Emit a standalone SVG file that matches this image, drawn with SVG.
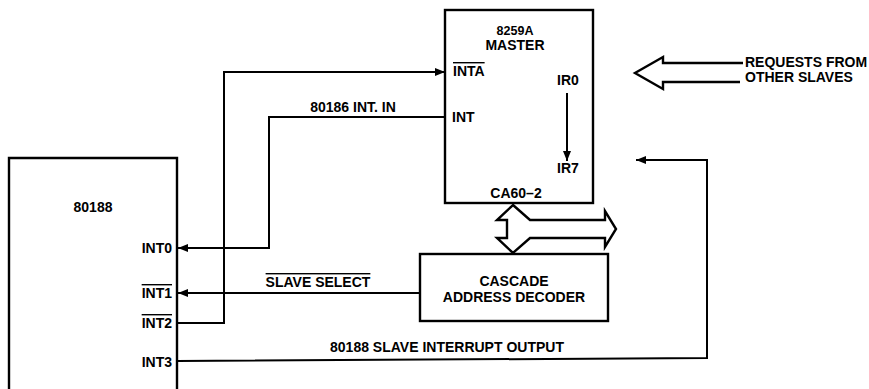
<svg xmlns="http://www.w3.org/2000/svg" width="869" height="389" viewBox="0 0 869 389">
<style>
text{font-family:"Liberation Sans",Arial,sans-serif;font-weight:bold;font-size:14px;fill:#000}
.sm{font-size:12.5px}
.box{fill:none;stroke:#000;stroke-width:2.4}
.ln{fill:none;stroke:#000;stroke-width:2}
.ol{text-decoration:overline}
</style>
<defs>
<marker id="ah" markerWidth="10" markerHeight="8" refX="10" refY="4" orient="auto" markerUnits="userSpaceOnUse">
<path d="M0,0 L10,4 L0,8 Z" fill="#000"/>
</marker>
</defs>
<rect width="869" height="389" fill="#fff"/>

<g id="cpu80188">
<path class="box" d="M9,395 V158 H177 V395"/>
<text x="93" y="212" text-anchor="middle">80188</text>
<text x="172" y="253" text-anchor="end">INT0</text>
<text x="172" y="298" text-anchor="end" class="ol">INT1</text>
<text x="172" y="328" text-anchor="end" class="ol">INT2</text>
<text x="172" y="367" text-anchor="end">INT3</text>
</g>

<g id="master8259A">
<rect class="box" x="445" y="10" width="148" height="193"/>
<text x="515" y="35" text-anchor="middle" class="sm">8259A</text>
<text x="515" y="50" text-anchor="middle">MASTER</text>
<text x="453" y="76" class="ol">INTA</text>
<text x="452" y="122">INT</text>
<text x="557" y="85">IR0</text>
<text x="557" y="173">IR7</text>
<text x="516" y="198" text-anchor="middle">CA60–2</text>
<line class="ln" x1="567" y1="93" x2="567" y2="161" marker-end="url(#ah)"/>
</g>

<g id="decoder">
<rect class="box" x="420" y="254" width="188" height="67"/>
<text x="514" y="286" text-anchor="middle">CASCADE</text>
<text x="514" y="302" text-anchor="middle">ADDRESS DECODER</text>
</g>

<g id="requests">
<path class="box" d="M743,63 H663 V57 L635,73 L663,89 V82 H740"/>
<text x="745" y="67">REQUESTS FROM</text>
<text x="745" y="82">OTHER SLAVES</text>
</g>

<g id="connectors">
<path class="box" d="M513,205 L530,220 H605 V211 L616,229 L605,247 V238 H530 L513,253 L497,238 H507 V220 H497 Z" fill="#fff"/>
<path class="ln" d="M177,323 H224 V72 H445" marker-end="url(#ah)"/>
<path class="ln" d="M445,117 H269 V248 H178" marker-end="url(#ah)"/>
<path class="ln" d="M420,293 H178" marker-end="url(#ah)"/>
<path class="ln" d="M177,361 L707,358 V160 H636" marker-end="url(#ah)"/>
<text x="353" y="112" text-anchor="middle">80186 INT. IN</text>
<text x="318" y="287" text-anchor="middle" class="ol">SLAVE SELECT</text>
<text x="447" y="352" text-anchor="middle">80188 SLAVE INTERRUPT OUTPUT</text>
</g>
</svg>
